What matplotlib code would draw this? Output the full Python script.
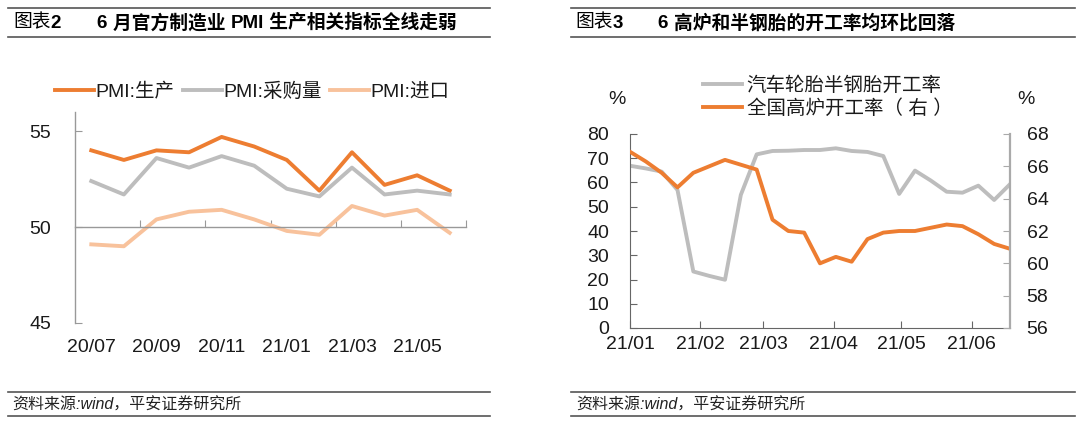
import numpy as np
import pandas as pd
import matplotlib
matplotlib.use("Agg")
import matplotlib.pyplot as plt
import matplotlib.dates as mdates
from matplotlib.lines import Line2D

plt.rcParams['font.family'] = ['Liberation Sans', 'Noto Sans CJK SC', 'DejaVu Sans']

# ---- data: chart 2 (monthly PMI sub-indices) ----
months = ['20/07', '20/08', '20/09', '20/10', '20/11', '20/12',
          '21/01', '21/02', '21/03', '21/04', '21/05', '21/06']
pmi_prod = [54.0, 53.5, 54.0, 53.9, 54.7, 54.2, 53.5, 51.9, 53.9, 52.2, 52.7, 51.9]
pmi_purchase = [52.4, 51.7, 53.6, 53.1, 53.7, 53.2, 52.0, 51.6, 53.1, 51.7, 51.9, 51.7]
pmi_import = [49.1, 49.0, 50.4, 50.8, 50.9, 50.4, 49.8, 49.6, 51.1, 50.6, 50.9, 49.7]

# ---- data: chart 3 (weekly operating rates) ----
weeks = pd.date_range('2021-01-01', periods=25, freq='7D')
tire_rate = [66.9, 65.8, 64.5, 56.9, 23.3, 21.5, 19.9, 54.9, 71.6, 73.0, 73.1, 73.4, 73.4,
             74.1, 73.0, 72.6, 70.9, 55.3, 64.9, 60.8, 56.2, 55.8, 58.7, 52.8, 59.3]
furnace_rate = [66.9, 66.3, 65.6, 64.7, 65.6, 66.0, 66.4, 66.1, 65.8, 62.7, 62.0, 61.9, 60.0,
                60.4, 60.1, 61.5, 61.9, 62.0, 62.0, 62.2, 62.4, 62.3, 61.8, 61.2, 60.9]

ORANGE = '#ED7D31'
GRAY = '#BDBDBD'
LIGHT = '#F8C29C'
TXT = '#1a1a1a'
FS = 14

W, H = 1080, 430
fig = plt.figure(figsize=(W / 100, H / 100), dpi=100)


def fx(px):
    return px / W


def fy(py):
    return 1 - py / H


def hline(x0, x1, y, color='#555555', lw=1.2):
    fig.add_artist(Line2D([fx(x0), fx(x1)], [fy(y), fy(y)], color=color, lw=lw,
                          transform=fig.transFigure))


# ---- headers / footers ----
for x0, x1 in [(8, 490), (571, 1075)]:
    hline(x0, x1, 8)
    hline(x0, x1, 37)
    hline(x0, x1, 392)
    hline(x0, x1, 416)

renderer = fig.canvas.get_renderer()


def pieces(x, y, parts, size=13.5):
    # place consecutive text chunks with different weights
    for s, wt in parts:
        t = fig.text(fx(x), fy(y), s, fontsize=size, fontweight=wt, color='black',
                     va='center', ha='left')
        x += t.get_window_extent(renderer).width


pieces(13, 23, [('图表', 'normal'), ('2', 'bold')])
pieces(97, 23, [('6 ', 'bold'), ('月官方制造业 ', 'bold'), ('PMI', 'bold'),
                (' 生产相关指标全线走弱', 'bold')])
pieces(575, 23, [('图表', 'normal'), ('3', 'bold')])
pieces(658, 23, [('6 ', 'bold'), ('高炉和半钢胎的开工率均环比回落', 'bold')])

for x in [12, 576]:
    fig.text(fx(x), fy(405), '资料来源:wind，平安证券研究所', fontsize=11.5, style='italic',
             color='#222222', va='center', ha='left')

# ---- chart 2 ----
ax = fig.add_axes([fx(75), fy(323), fx(466) - fx(75), fy(112) - fy(323)])
xs = np.arange(len(months))
ax.plot(xs, pmi_prod, color=ORANGE, lw=2.8, label='PMI:生产')
ax.plot(xs, pmi_purchase, color=GRAY, lw=2.8, label='PMI:采购量')
ax.plot(xs, pmi_import, color=LIGHT, lw=2.8, label='PMI:进口')
ax.set_xlim(-0.5, len(months) - 0.5)
ax.set_ylim(45, 56)
ax.set_yticks([45, 50, 55])
for s in ['top', 'right']:
    ax.spines[s].set_visible(False)
ax.spines['bottom'].set_position(('data', 50))
for s in ['left', 'bottom']:
    ax.spines[s].set_color('#999999')
    ax.spines[s].set_linewidth(1.0)
ax.set_xticks(np.arange(1.5, len(months), 2))
ax.tick_params(axis='x', direction='in', length=5, color='#999999', labelbottom=False)
ax.tick_params(axis='y', direction='in', length=5, color='#999999', pad=17,
               labelsize=FS, labelcolor=TXT)
for i in range(0, len(months), 2):
    ax.text(xs[i], -0.114, months[i], transform=ax.get_xaxis_transform(),
            ha='center', va='center', fontsize=FS, color=TXT)
fig.legend(handles=ax.get_lines(), loc='center left', bbox_to_anchor=(fx(55), fy(92)),
           ncol=3, frameon=False, fontsize=FS, handlelength=2.0, handletextpad=0.1,
           columnspacing=0.4, borderpad=0, borderaxespad=0, labelcolor=TXT)

# ---- chart 3 ----
ax2 = fig.add_axes([fx(630), fy(328), fx(1010) - fx(630), fy(134) - fy(328)])
ax3 = ax2.twinx()
l1, = ax2.plot(weeks, tire_rate, color=GRAY, lw=2.8, label='汽车轮胎半钢胎开工率')
l2, = ax3.plot(weeks, furnace_rate, color=ORANGE, lw=2.8, label='全国高炉开工率（ 右 ）')
ax2.set_xlim(weeks[0], weeks[-1])
ax2.set_ylim(0, 80)
ax2.set_yticks(np.arange(0, 81, 10))
ax3.set_ylim(56, 68)
ax3.set_yticks(np.arange(56, 69, 2))
ax2.xaxis.set_major_locator(mdates.MonthLocator())
ax2.xaxis.set_major_formatter(mdates.DateFormatter('%y/%m'))
ax2.spines['top'].set_visible(False)
ax3.spines['top'].set_visible(False)
ax3.spines['left'].set_visible(False)
ax3.spines['bottom'].set_visible(False)
ax2.spines['right'].set_visible(False)
for s in ['left', 'bottom']:
    ax2.spines[s].set_color('#666666')
ax3.spines['right'].set_color('#AAAAAA')
ax3.spines['right'].set_linewidth(1.6)
ax2.tick_params(axis='x', direction='in', length=5, color='#666666', pad=6,
                labelsize=FS, labelcolor=TXT)
ax2.tick_params(axis='y', direction='in', length=5, color='#666666', pad=15,
                labelsize=FS, labelcolor=TXT)
ax3.tick_params(axis='y', direction='in', length=5, color='#AAAAAA', pad=12,
                labelsize=FS, labelcolor=TXT)
fig.text(fx(617), fy(99), '%', fontsize=FS, color=TXT, ha='center', va='center')
fig.text(fx(1026), fy(99), '%', fontsize=FS, color=TXT, ha='center', va='center')
fig.legend(handles=[l1, l2], loc='center left', bbox_to_anchor=(fx(703), fy(97)),
           frameon=False, fontsize=FS, handlelength=2.0, handletextpad=0.25,
           labelspacing=0.2, borderpad=0, borderaxespad=0, labelcolor=TXT)

fig.savefig('out.png', dpi=100)
